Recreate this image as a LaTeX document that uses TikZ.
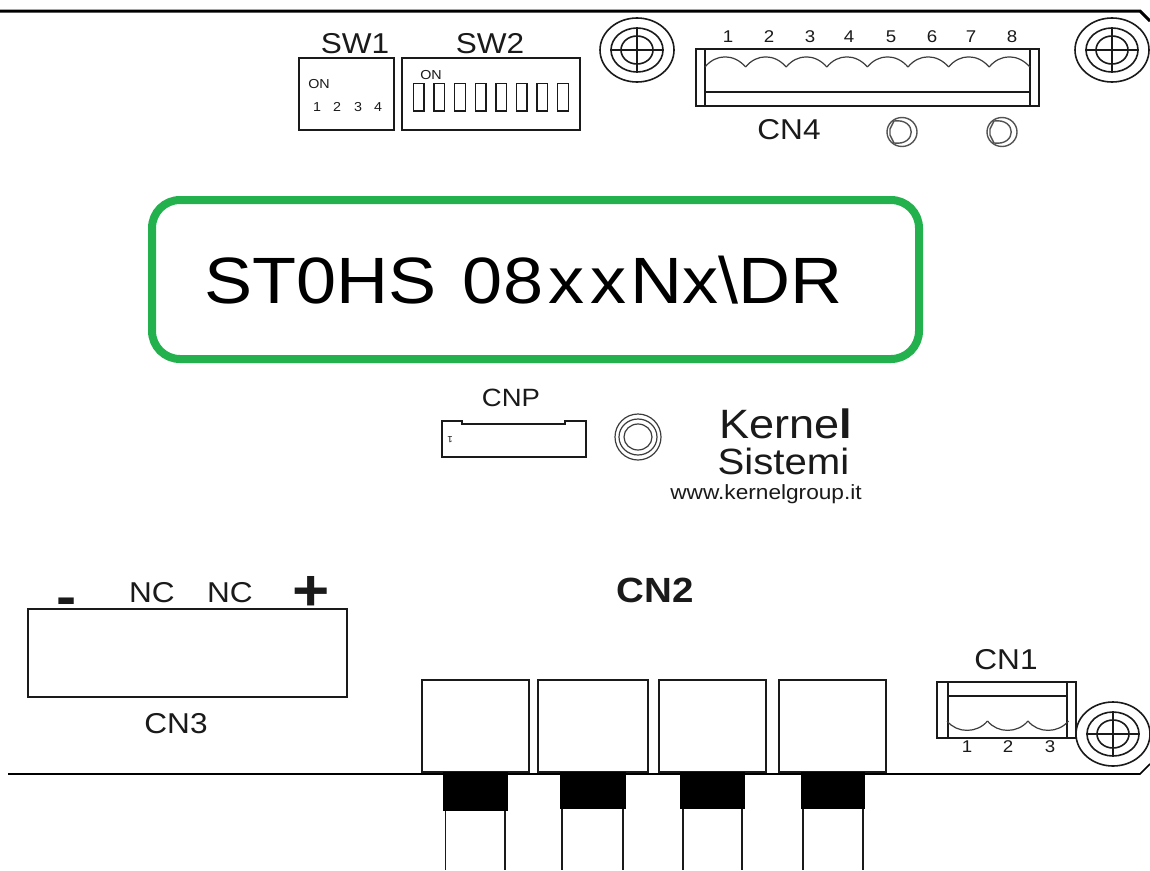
\documentclass[tikz,border=0pt]{standalone}
\usepackage{fontspec}
\setmainfont[FakeStretch=1.1]{Liberation Sans}
\definecolor{pcbgreen}{HTML}{23B14D}
\definecolor{ink}{HTML}{1A1A1A}
\tikzset{
  ln/.style={draw=ink,line width=1.6pt},
  thin ln/.style={draw=ink,line width=1.2pt},
  lab/.style={inner sep=0pt,text=ink},
  big/.style={lab,font=\fontsize{28.7}{29}\selectfont},
  small/.style={lab,font=\fontsize{17}{17}\selectfont},
  tiny/.style={lab,font=\fontsize{13}{13}\selectfont},
  sw/.style={ln,line width=1.4pt},
}
\newcommand{\screw}[2]{%
  \draw[ln] (#1,#2) ellipse [x radius=37,y radius=32];
  \draw[ln] (#1,#2) ellipse [x radius=26,y radius=22];
  \draw[ln] (#1,#2) ellipse [x radius=16,y radius=14];
  \draw[ln,line width=2pt] (#1-27,#2) -- (#1+27,#2);
  \draw[ln,line width=2pt] (#1,#2-23) -- (#1,#2+23);
}
\newcommand{\post}[2]{%
  \draw[draw=ink!75,line width=1.4pt] (#1,#2) ellipse [x radius=15,y radius=14.5];
  \draw[draw=ink!75,line width=1.4pt] (#1-8,#2-11) .. controls (#1+15,#2-14) and (#1+15,#2+14) .. (#1-8,#2+11) -- (#1-12,#2+3) -- (#1-12,#2-3) -- cycle;
}
\begin{document}
\begin{tikzpicture}[x=1pt,y=-1pt]
\useasboundingbox (0,0) rectangle (1150,870);
\fill[white] (0,0) rectangle (1150,870);
% board outline
\coordinate (tl) at (0,11); \coordinate (tr) at (1140,11); \coordinate (trc) at (1150,21);
\draw[draw=black,line width=3pt] (tl) -- (tr) -- (trc);
\coordinate (bl) at (8,774); \coordinate (br) at (1140,774); \coordinate (brc) at (1150,764);
\draw[draw=black,line width=1.6pt] (bl) -- (br) -- (brc);
% SW1
\node[big] (swa) at (355,44) {SW1};
\draw[sw] (299,58) rectangle (394,130);
\node[tiny] (on1) at (319,84) {ON};
\foreach \x/\t in {317/1,337/2,358/3,378/4} \node[tiny] (sa\t) at (\x,107) {\t};
% SW2
\node[big] (swb) at (490,44) {SW2};
\draw[sw] (402,58) rectangle (580,130);
\node[tiny] (on2) at (431,75) {ON};
\foreach \i in {0,...,7} \draw[sw] ({413.5+\i*20.6},83.5) rectangle ({424+\i*20.6},111);
% screws
\screw{637}{50}
\screw{1112}{50}
% CN4
\draw[ln] (696,49) rectangle (1039,106);
\draw[ln] (705,49) -- (705,106);
\draw[ln] (1030,49) -- (1030,106);
\draw[ln] (705,92) -- (1030,92);
\foreach \i in {0,...,7}
  \draw[thin ln,draw=ink!85] ({705+\i*40.6},67) .. controls ({716+\i*40.6},53.5) and ({734+\i*40.6},53.5) .. ({745.6+\i*40.6},67);
\foreach \t/\x in {1/728,2/769,3/810,4/849,5/891,6/932,7/971,8/1012} \node[small] (cf\t) at (\x,37) {\t};
\node[big] (cnd) at (789,130) {CN4};
\post{902}{132}
\post{1002}{132}
% display
\draw[draw=pcbgreen,line width=8pt,rounded corners=28pt,fill=white] (152,200) rectangle (919,359);
\node[lab,text=black,anchor=base,font=\fontsize{65.5}{66}\selectfont] (disp) at (523.5,303) {ST0HS\kern6pt{} 08\kern5pt x\kern6pt x\kern4pt Nx\textbackslash DR};
% CNP
\node[lab,font=\fontsize{25}{25}\selectfont] (cnp) at (511,398) {CNP};
\draw[ln] (442,421) -- (462,421) -- (462,424) -- (565,424) -- (565,421) -- (586,421) -- (586,457) -- (442,457) -- cycle;
\node[lab,rotate=180,font=\fontsize{9}{9}\selectfont] (cnpone) at (450,440) {1};
% centre post
\draw[draw=ink!85,line width=1.2pt] (638,437) ellipse [x radius=23,y radius=23];
\draw[draw=ink!85,line width=1.2pt] (638,437) ellipse [x radius=19,y radius=18];
\draw[draw=ink!85,line width=1.2pt] (638,437) ellipse [x radius=14,y radius=13];
% logo
\node[lab,font=\fontsize{41}{41}\selectfont] (kn) at (786,424) {Kerne\textbf{l}};
\node[lab,font=\fontsize{36.5}{37}\selectfont] (si) at (783.5,461) {Sistemi};
\node[lab,font=\fontsize{20.6}{21}\selectfont] (ur) at (766,494) {www.kernelgroup.it};
% CN3
\node[lab,anchor=base,font=\bfseries\fontsize{55}{55}\selectfont] (mn) at (67,615) {-};
\node[big] (nca) at (152,593) {NC};
\node[big] (ncb) at (230,593) {NC};
\node[lab,anchor=base,font=\bfseries\fontsize{58}{58}\selectfont] (pl) at (311,610) {+};
\draw[ln] (28,609) rectangle (347,697);
\node[big] (cnc) at (176,724) {CN3};
% CN2
\node[lab,font=\bfseries\fontsize{35}{35}\selectfont] (cnb) at (655,590) {CN2};
\foreach \a/\b/\c/\d/\e/\f/\g in {422/529/443/508/445.5/505/811,538/648/560/626/562/623/809,659/766/680/745/683/742/809,779/886/801/865/803/863/809}{
  \draw[ln,fill=white] (\a,680) rectangle (\b,772);
  \fill[black] (\c,772) rectangle (\d,\g);
  \draw[ln] (\e,\g) -- (\e,870);
  \draw[ln] (\f,\g) -- (\f,870);
}
% CN1
\node[big] (cna) at (1006,660) {CN1};
\draw[ln] (937,682) rectangle (1076,738);
\draw[ln] (948,682) -- (948,738);
\draw[ln] (1067,682) -- (1067,738);
\draw[ln] (948,696) -- (1067,696);
\foreach \i in {0,1,2}
  \draw[thin ln,draw=ink!85] ({947+\i*40.5},721) .. controls ({957+\i*40.5},733.5) and ({977+\i*40.5},733.5) .. ({987.5+\i*40.5},721);
\foreach \t/\x in {1/967,2/1008,3/1050} \node[small] (co\t) at (\x,747) {\t};
\screw{1113}{734}
\end{tikzpicture}
\end{document}
